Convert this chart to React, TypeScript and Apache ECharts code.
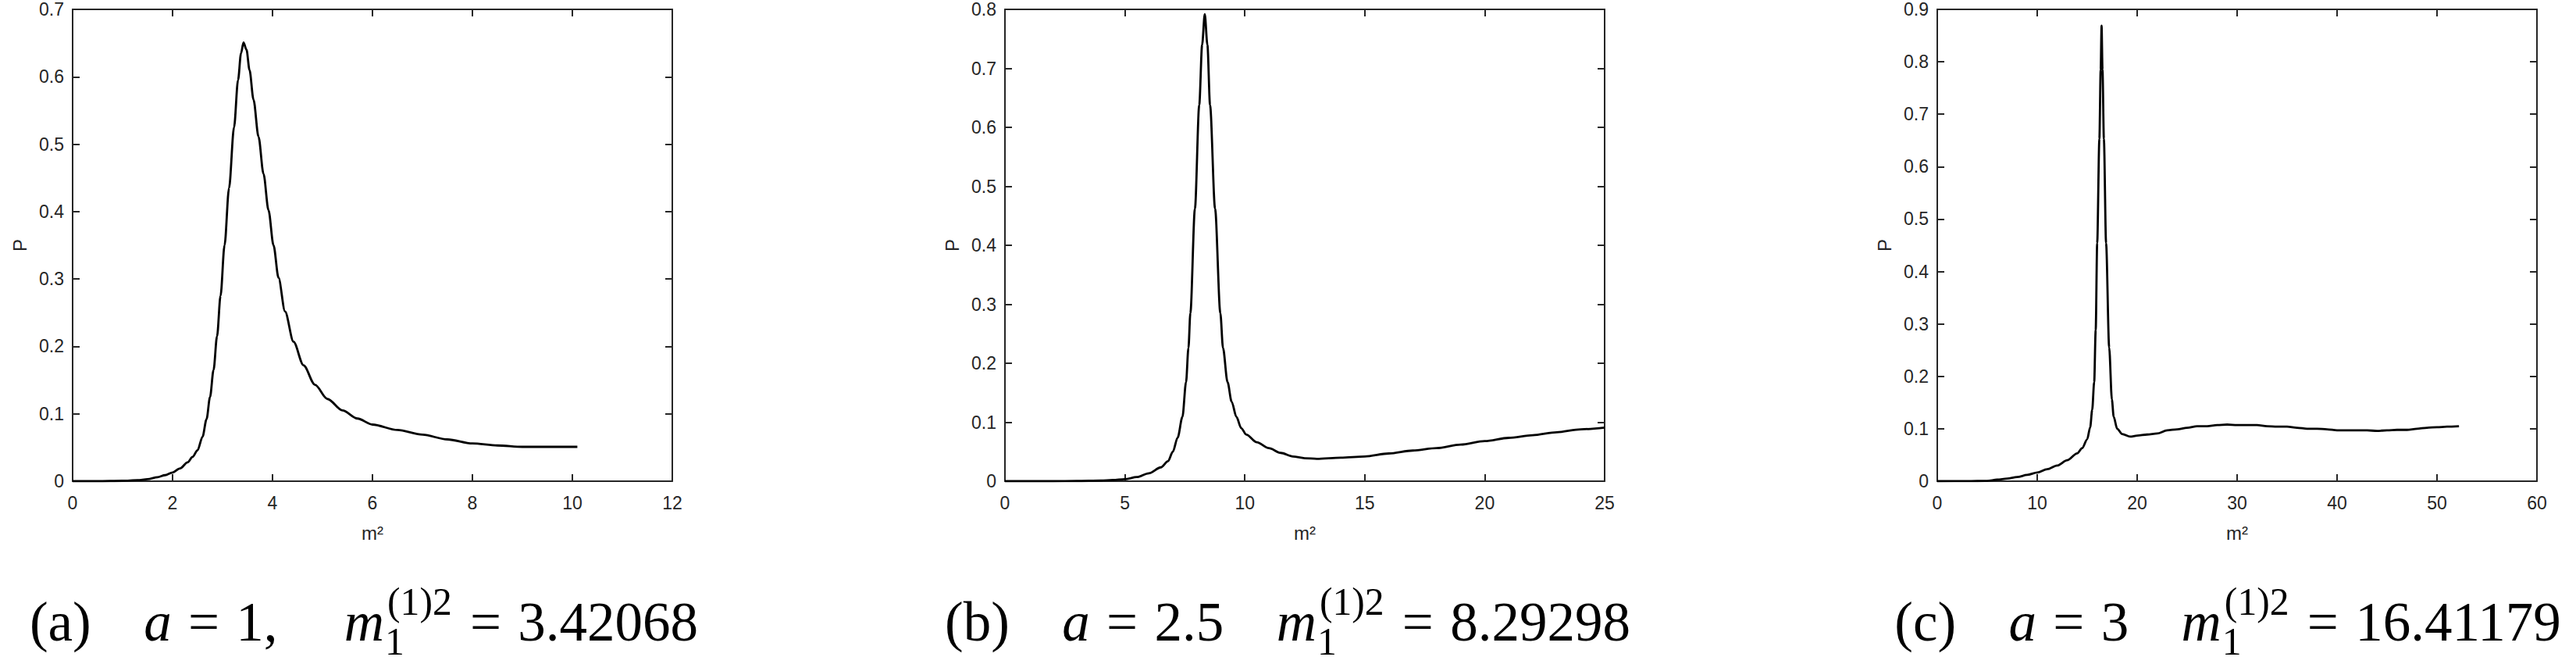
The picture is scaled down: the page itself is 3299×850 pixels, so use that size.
import React, { useEffect, useRef } from "react";
import * as echarts from "echarts";

// ---------- data ----------
// panel (a): a = 1
const aM2 = [0, 0.5, 1.0, 1.3, 1.5, 1.7, 1.85, 2.0, 2.15, 2.3, 2.4, 2.5, 2.6, 2.68, 2.75, 2.82, 2.89, 2.96, 3.04, 3.13, 3.23, 3.31, 3.37, 3.42, 3.48, 3.54, 3.62, 3.72, 3.82, 3.92, 4.02, 4.12, 4.25, 4.42, 4.62, 4.85, 5.1, 5.4, 5.7, 6.0, 6.5, 7.0, 7.5, 8.0, 8.5, 9.0, 9.5, 10.1];
const aP = [0, 0, 0.0006, 0.0015, 0.003, 0.006, 0.009, 0.013, 0.019, 0.028, 0.036, 0.046, 0.066, 0.092, 0.125, 0.165, 0.215, 0.275, 0.35, 0.435, 0.525, 0.595, 0.635, 0.651, 0.64, 0.61, 0.566, 0.511, 0.456, 0.402, 0.35, 0.302, 0.252, 0.207, 0.172, 0.143, 0.122, 0.105, 0.093, 0.084, 0.076, 0.069, 0.062, 0.056, 0.053, 0.051, 0.051, 0.051];

// panel (b): a = 2.5
const bM2 = [0, 2, 3, 4, 4.5, 5, 5.5, 6, 6.5, 6.8, 7.0, 7.2, 7.4, 7.55, 7.65, 7.73, 7.92, 8.1, 8.22, 8.33, 8.44, 8.55, 8.76, 8.98, 9.09, 9.28, 9.45, 9.65, 9.85, 10.06, 10.5, 11, 11.5, 12, 12.5, 13, 14, 15, 16, 17, 18, 19, 20, 21, 22, 23, 24, 25];
const bP = [0, 0, 0.0003, 0.001, 0.002, 0.0035, 0.007, 0.0135, 0.0235, 0.034, 0.05, 0.074, 0.109, 0.168, 0.226, 0.285, 0.462, 0.638, 0.74, 0.792, 0.74, 0.638, 0.462, 0.285, 0.226, 0.168, 0.135, 0.109, 0.09, 0.079, 0.066, 0.056, 0.048, 0.042, 0.039, 0.038, 0.04, 0.042, 0.047, 0.052, 0.056, 0.062, 0.068, 0.0735, 0.078, 0.083, 0.088, 0.091];

// panel (c): a = 3
const cM2 = [0, 3, 5, 6, 7, 8, 9, 10, 11, 12, 13, 14, 14.5, 15, 15.3, 15.5, 15.7, 15.85, 16.0, 16.22, 16.35, 16.44, 16.53, 16.67, 16.89, 17.2, 17.47, 17.65, 18.0, 18.5, 19.3, 20, 21, 22, 23, 24, 25, 26, 27, 28, 29, 30, 31, 32, 33, 34, 35, 36, 37, 38, 39, 40, 41, 42, 43, 44, 45, 46, 47, 48, 49, 50, 51, 52.2];
const cP = [0, 0.0001, 0.0007, 0.003, 0.005, 0.008, 0.012, 0.0166, 0.023, 0.03, 0.04, 0.053, 0.063, 0.08, 0.103, 0.136, 0.189, 0.288, 0.454, 0.653, 0.785, 0.869, 0.785, 0.653, 0.454, 0.255, 0.156, 0.123, 0.1, 0.09, 0.085, 0.087, 0.089, 0.091, 0.097, 0.099, 0.102, 0.105, 0.105, 0.107, 0.108, 0.107, 0.107, 0.107, 0.105, 0.104, 0.104, 0.102, 0.1, 0.1, 0.099, 0.097, 0.097, 0.097, 0.097, 0.096, 0.097, 0.098, 0.098, 0.1, 0.102, 0.103, 0.104, 0.105];

// axes
const xMaxes = [12, 25, 60];
const xSteps = [2, 5, 10];
const yMaxes = [0.7, 0.8, 0.9];
const yStep = 0.1;
const xName = "m²";
const yName = "P";

// captions
const capLabels = ["(a)", "(b)", "(c)"];
const capA = ["1,", "2.5", "3"];
const capMass = ["3.42068", "8.29298", "16.41179"];

// ---------- layout ----------
const W = 3299;
const H = 850;
const GRID_LEFTS = [93, 1287, 2481];
const GRID_TOP = 12;
const GRID_W = 768;
const GRID_H = 604;
const CAP_SHIFT = [-11, -22, -12];
const AXIS_COLOR = "#262626";
const SANS = "'Liberation Sans', Arial, Helvetica, sans-serif";
const SERIF = "'Liberation Serif', 'Times New Roman', serif";
const CAP_SIZE = 71;
const CAP_BASELINE = 820;

const zip = (xs: number[], ys: number[]) => {
  const n = Math.min(xs.length, ys.length);
  const out: number[][] = [];
  for (let i = 0; i < n; i++) out.push([xs[i], ys[i]]);
  return out;
};

const seriesData = [zip(aM2, aP), zip(bM2, bP), zip(cM2, cP)];

function makeMeasurer() {
  const canvas = document.createElement("canvas");
  const ctx = canvas.getContext("2d");
  const fontStr = (size: number, italic: boolean) =>
    `${italic ? "italic " : ""}${size}px ${SERIF}`;
  const width = (t: string, size: number, italic: boolean) => {
    if (!ctx) return t.length * size * 0.5;
    ctx.font = fontStr(size, italic);
    return ctx.measureText(t).width;
  };
  let k = 0.34;
  if (ctx) {
    ctx.font = fontStr(100, false);
    const m: any = ctx.measureText("x");
    if (m.fontBoundingBoxAscent != null && m.fontBoundingBoxDescent != null) {
      k = (m.fontBoundingBoxAscent - m.fontBoundingBoxDescent) / 2 / 100;
    }
  }
  return { width, k };
}

type Piece = { t: string; italic?: boolean; gap?: number; script?: { sub: string; sup: string } };

function buildCaption(i: number, cx: number, meas: ReturnType<typeof makeMeasurer>) {
  const S = CAP_SIZE;
  const s = S * 0.7;
  const pieces: Piece[] = [
    { t: capLabels[i] },
    { t: "", gap: 0.95 },
    { t: "a", italic: true },
    { t: "", gap: 0.3 },
    { t: "=" },
    { t: "", gap: 0.3 },
    { t: capA[i] },
    { t: "", gap: i === 0 ? 1.2 : 0.95 },
    { t: "m", italic: true },
    { t: "", script: { sub: "1", sup: "(1)2" } },
    { t: "", gap: 0.34 },
    { t: "=" },
    { t: "", gap: 0.3 },
    { t: capMass[i] },
  ];
  const widths = pieces.map((p) => {
    if (p.gap) return p.gap * S;
    if (p.script) return Math.max(meas.width(p.script.sub, s, false), meas.width(p.script.sup, s, false)) + 3;
    return meas.width(p.t, S, !!p.italic);
  });
  const total = widths.reduce((a, b) => a + b, 0);
  let x = cx - total / 2;
  const children: any[] = [];
  const mk = (t: string, px: number, baseline: number, size: number, italic: boolean) => ({
    type: "text",
    x: px,
    y: baseline - meas.k * size,
    silent: true,
    style: {
      text: t,
      fontSize: size,
      fontFamily: SERIF,
      fontStyle: italic ? "italic" : "normal",
      fill: "#000",
      textAlign: "left",
      textVerticalAlign: "middle",
      align: "left",
      verticalAlign: "middle",
    },
  });
  pieces.forEach((p, j) => {
    if (p.script) {
      children.push(mk(p.script.sub, x + 1, CAP_BASELINE + 0.25 * S, s, false));
      children.push(mk(p.script.sup, x + 4, CAP_BASELINE - 0.46 * S, s, false));
    } else if (!p.gap && p.t) {
      children.push(mk(p.t, x, CAP_BASELINE, S, !!p.italic));
    }
    x += widths[j];
  });
  return children;
}

const axisLineStyle = { color: AXIS_COLOR, width: 2 };

function buildOption() {
  const meas = makeMeasurer();
  const grid: any[] = [];
  const xAxis: any[] = [];
  const yAxis: any[] = [];
  const series: any[] = [];
  const graphic: any[] = [];
  for (let i = 0; i < 3; i++) {
    grid.push({ left: GRID_LEFTS[i], top: GRID_TOP, width: GRID_W, height: GRID_H, containLabel: false });
    const xBase = {
      type: "value",
      gridIndex: i,
      min: 0,
      max: xMaxes[i],
      interval: xSteps[i],
      splitLine: { show: false },
      axisLine: { show: true, onZero: false, lineStyle: axisLineStyle },
      axisTick: { show: true, inside: true, length: 9, lineStyle: axisLineStyle },
    };
    xAxis.push({
      ...xBase,
      position: "bottom",
      name: xName,
      nameLocation: "middle",
      nameGap: 54,
      nameTextStyle: { fontFamily: SANS, fontSize: 24, color: AXIS_COLOR },
      axisLabel: { show: true, margin: 16, fontFamily: SANS, fontSize: 23, color: AXIS_COLOR },
    });
    xAxis.push({ ...xBase, position: "top", axisLabel: { show: false } });
    const yBase = {
      type: "value",
      gridIndex: i,
      min: 0,
      max: yMaxes[i],
      interval: yStep,
      splitLine: { show: false },
      axisLine: { show: true, onZero: false, lineStyle: axisLineStyle },
      axisTick: { show: true, inside: true, length: 9, lineStyle: axisLineStyle },
    };
    yAxis.push({
      ...yBase,
      position: "left",
      name: yName,
      nameLocation: "middle",
      nameGap: 56,
      nameTextStyle: { fontFamily: SANS, fontSize: 24, color: AXIS_COLOR },
      axisLabel: { show: true, margin: 11, fontFamily: SANS, fontSize: 23, color: AXIS_COLOR },
    });
    yAxis.push({ ...yBase, position: "right", axisLabel: { show: false } });
    series.push({
      type: "line",
      xAxisIndex: i * 2,
      yAxisIndex: i * 2,
      data: seriesData[i],
      showSymbol: false,
      symbol: "none",
      smooth: 0.3,
      smoothMonotone: "x",
      lineStyle: { color: "#000", width: 2.8 },
      silent: true,
    });
    const cx = GRID_LEFTS[i] + GRID_W / 2 + CAP_SHIFT[i];
    graphic.push({ type: "group", children: buildCaption(i, cx, meas) });
  }
  return {
    animation: false,
    backgroundColor: "#ffffff",
    grid,
    xAxis,
    yAxis,
    series,
    graphic,
  };
}

export default function App() {
  const ref = useRef<HTMLDivElement>(null);
  useEffect(() => {
    if (!ref.current) return;
    const chart = echarts.init(ref.current, undefined, { renderer: "svg" });
    chart.setOption(buildOption() as any);
    return () => chart.dispose();
  }, []);
  return (
    <div
      ref={ref}
      style={{ position: "fixed", left: 0, top: 0, width: W + "px", height: H + "px", background: "#fff" }}
    />
  );
}
